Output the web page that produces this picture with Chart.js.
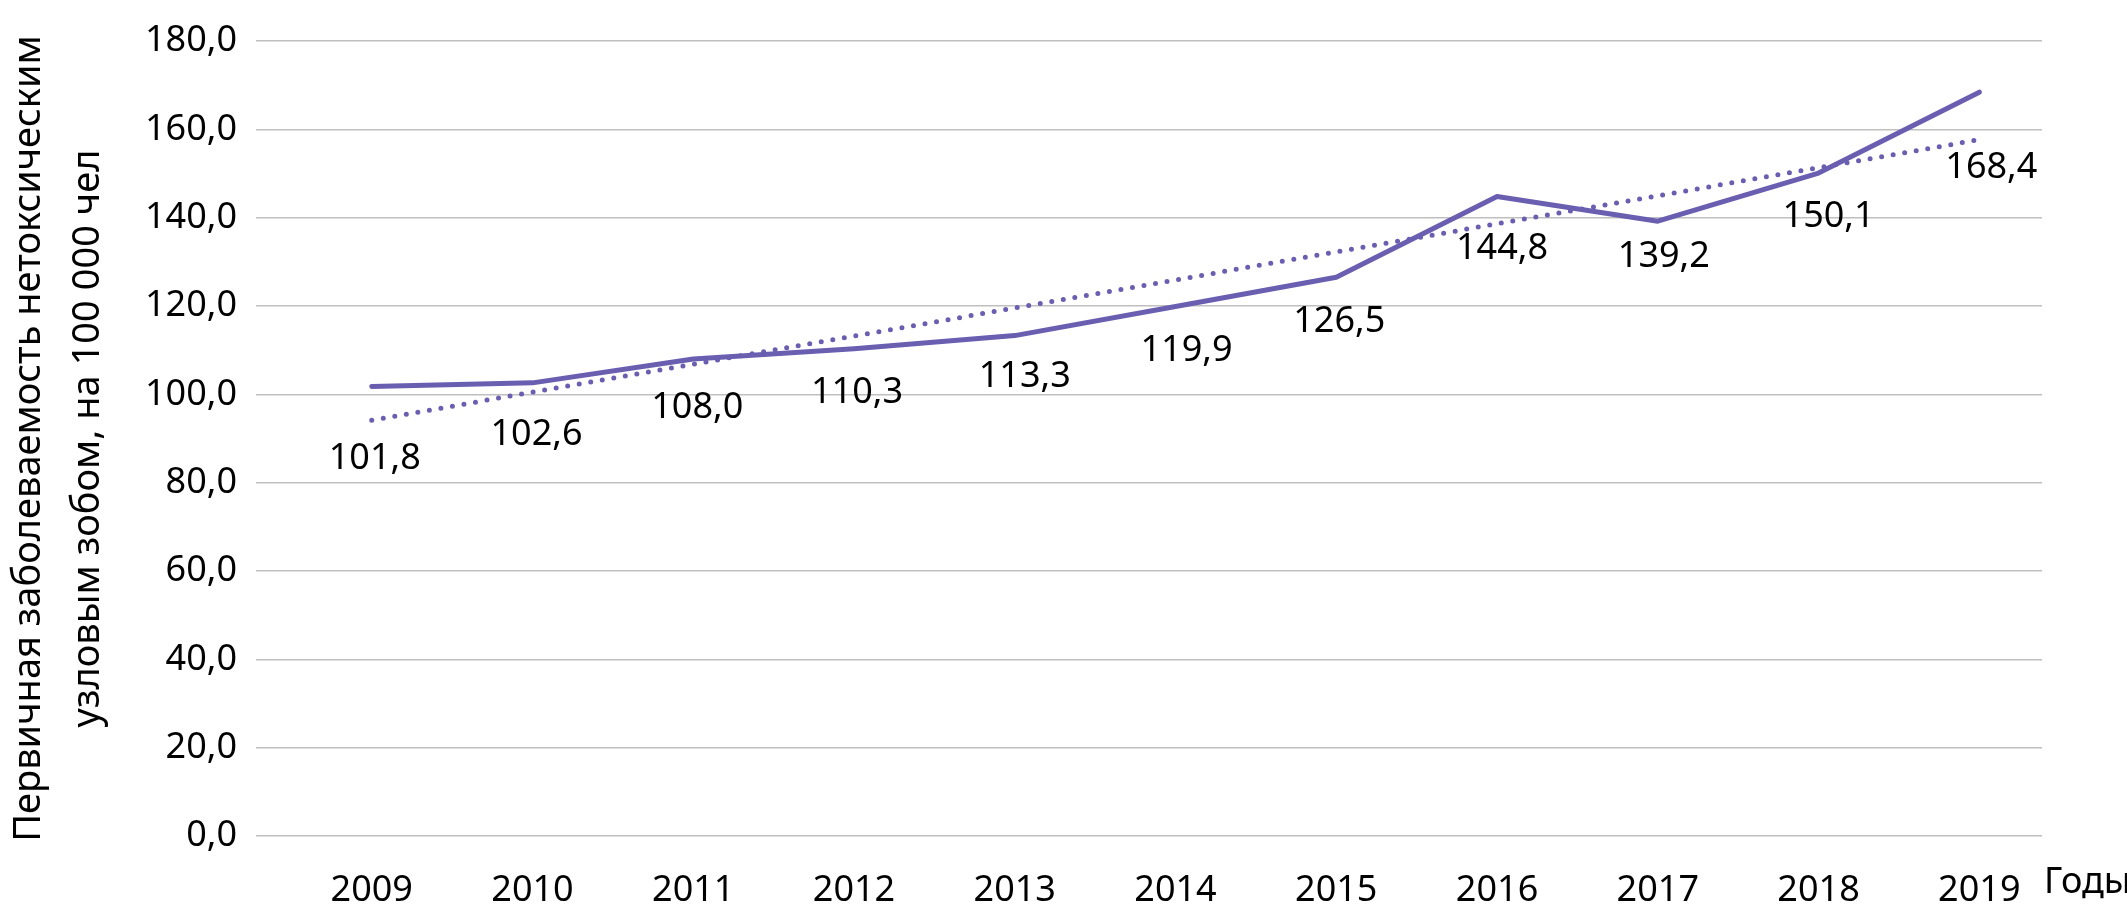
<!DOCTYPE html>
<html lang="ru">
<head>
<meta charset="utf-8">
<title>Первичная заболеваемость нетоксическим узловым зобом</title>
<script src="https://cdn.jsdelivr.net/npm/chart.js@4.4.1/dist/chart.umd.min.js"></script>
<style>
    html, body { margin: 0; padding: 0; background: #fff; }
    canvas { display: block; }
</style>
</head>
<body>
<canvas id="incidenceChart" width="2127" height="917"></canvas>
<script>
// Data
const years = [2009, 2010, 2011, 2012, 2013, 2014, 2015, 2016, 2017, 2018, 2019];
const incidence = [101.8, 102.6, 108.0, 110.3, 113.3, 119.9, 126.5, 144.8, 139.2, 150.1, 168.4];
const yTicks = [0, 20, 40, 60, 80, 100, 120, 140, 160, 180];
const yTitle = ['Первичная заболеваемость нетоксическим', 'узловым зобом, на 100 000 чел'];
const xTitle = 'Годы';

// where each value label sits, relative to its point (px)
const labelShift = [[3, 72], [4, 52], [4, 49], [3, 44], [10, 41], [11, 44], [3, 44], [5, 52], [6, 36], [10, 44], [12, 76]];

const purple = '#6a5eb0';
const font = { family: "'Noto Sans', sans-serif", size: 36 };
const fmt = v => v.toFixed(1).replace('.', ',');

// linear trend (least squares), like the excel trendline
const n = years.length;
const mx = years.reduce((a, b) => a + b, 0) / n;
const my = incidence.reduce((a, b) => a + b, 0) / n;
let sxy = 0, sxx = 0;
years.forEach((x, i) => { sxy += (x - mx) * (incidence[i] - my); sxx += (x - mx) * (x - mx); });
const slope = sxy / sxx;
const trendAt = x => my + slope * (x - mx);

// Value labels + "Годы" caption
const labelsPlugin = {
    id: 'valueLabels',
    afterDatasetsDraw(chart) {
        const ctx = chart.ctx;
        const meta = chart.getDatasetMeta(0);
        ctx.save();
        ctx.font = font.size + 'px ' + font.family;
        ctx.fillStyle = '#000';
        ctx.textAlign = 'center';
        ctx.textBaseline = 'middle';
        meta.data.forEach((pt, i) => {
            ctx.fillText(fmt(incidence[i]), pt.x + labelShift[i][0], pt.y + labelShift[i][1]);
        });
        // axis caption at the right end of the year row
        const xs = chart.scales.x;
        ctx.textAlign = 'left';
        ctx.fillText(xTitle, chart.chartArea.right + 2, xs.top + 25 + 21.6);
        ctx.restore();
    }
};

const chart = new Chart(document.getElementById('incidenceChart'), {
    type: 'line',
    data: {
        datasets: [{
            label: 'Заболеваемость',
            data: years.map((y, i) => ({ x: y, y: incidence[i] })),
            borderColor: purple,
            borderWidth: 5,
            borderCapStyle: 'round',
            borderJoinStyle: 'round',
            pointRadius: 0,
            fill: false,
            tension: 0
        }, {
            label: 'Линейная',
            data: [years[0], years[n - 1]].map(y => ({ x: y, y: trendAt(y) })),
            borderColor: purple,
            borderWidth: 5,
            borderDash: [0, 11.7],
            borderCapStyle: 'round',
            pointRadius: 0,
            fill: false
        }]
    },
    options: {
        responsive: false,
        animation: false,
        devicePixelRatio: 1,
        layout: { padding: { left: 0, right: 85, top: 41, bottom: 0 } },
        plugins: {
            legend: { display: false },
            tooltip: { enabled: false }
        },
        scales: {
            x: {
                type: 'linear',
                min: 2008.28,
                max: 2019.39,
                afterBuildTicks: s => { s.ticks = years.map(v => ({ value: v })); },
                afterFit: s => { s.height = 81; },
                grid: { display: false },
                border: { display: false },
                ticks: {
                    color: '#000',
                    font: font,
                    padding: 25,
                    maxRotation: 0,
                    callback: v => String(v)
                }
            },
            y: {
                min: 0,
                max: 180,
                afterBuildTicks: s => { s.ticks = yTicks.map(v => ({ value: v })); },
                afterFit: s => { s.width = 256; },
                grid: { color: '#bfbfbf', lineWidth: 1.5, drawTicks: false },
                border: { display: false },
                ticks: {
                    color: '#000',
                    font: font,
                    padding: 19,
                    callback: v => fmt(v)
                },
                title: {
                    display: true,
                    text: yTitle,
                    color: '#000',
                    font: { family: font.family, size: 38, lineHeight: 1.55 },
                    padding: { top: 0, bottom: 0 }
                }
            }
        }
    },
    plugins: [labelsPlugin]
});
</script>
</body>
</html>
